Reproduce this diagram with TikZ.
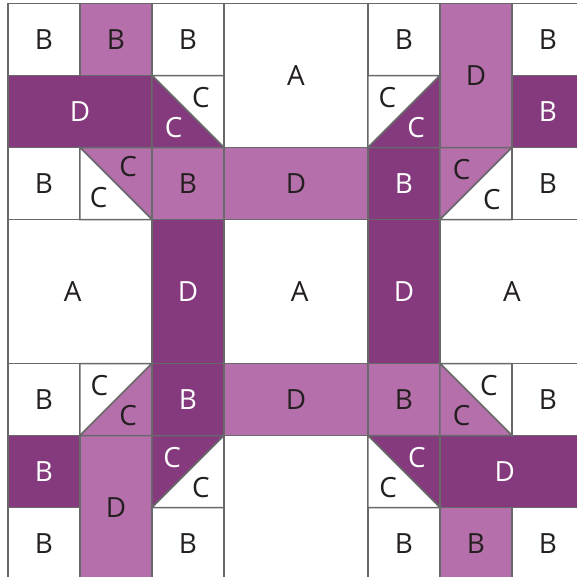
\documentclass[tikz,border=0pt]{standalone}
\usepackage{fontspec}
\setmainfont{Open Sans}
\usepackage{xcolor}
\definecolor{plumdark}{RGB}{133, 58, 126}
\definecolor{plumlight}{RGB}{181, 111, 170}
\definecolor{edgegray}{RGB}{105, 105, 108}
\definecolor{inkblack}{RGB}{35, 31, 32}

\begin{document}
\begin{tikzpicture}[
    x=1cm, y=-1cm,
    patch/.style={draw=edgegray, line width=0.6pt, line join=miter},
    plain/.style={patch, fill=white},
    lite/.style={patch, fill=plumlight},
    deep/.style={patch, fill=plumdark},
    lbl/.style={font=\fontsize{11}{13}\selectfont, text=inkblack, inner sep=0pt},
    lblw/.style={lbl, text=white},
]
\useasboundingbox (-0.111,-0.049) rectangle (7.903,7.965);
\clip (-0.111,-0.049) rectangle (7.903,7.965);

% plain B squares
\foreach \c/\r [count=\i] in {0/0, 2/0, 5/0, 7/0, 0/2, 7/2, 0/5, 7/5, 0/7, 2/7, 5/7, 7/7} {
    \draw[plain] (\c,\r) rectangle ++(1,1);
    \node[lbl] (bw\i) at (\c+0.5,\r+0.5) {B};
}

% coloured B squares
\draw[lite] (1,0) rectangle (2,1);
\draw[lite] (2,2) rectangle (3,3);
\draw[lite] (5,5) rectangle (6,6);
\draw[lite] (6,7) rectangle (7,8);
\draw[deep] (7,1) rectangle (8,2);
\draw[deep] (5,2) rectangle (6,3);
\draw[deep] (2,5) rectangle (3,6);
\draw[deep] (0,6) rectangle (1,7);
\node[lbl]  (bl1) at (1.5,0.5) {B};
\node[lbl]  (bl2) at (2.5,2.5) {B};
\node[lbl]  (bl3) at (5.5,5.5) {B};
\node[lbl]  (bl4) at (6.5,7.5) {B};
\node[lblw] (bd1) at (7.5,1.5) {B};
\node[lblw] (bd2) at (5.5,2.5) {B};
\node[lblw] (bd3) at (2.5,5.5) {B};
\node[lblw] (bd4) at (0.5,6.5) {B};

% A blocks
\draw[plain] (3,0) rectangle (5,2);
\draw[plain] (0,3) rectangle (2,5);
\draw[plain] (3,3) rectangle (5,5);
\draw[plain] (6,3) rectangle (8,5);
\draw[plain] (3,6) rectangle (5,8);
\node[lbl] (a1) at (4,1) {A};
\node[lbl] (a2) at (0.9,4) {A};
\node[lbl] (a3) at (4.05,4) {A};
\node[lbl] (a4) at (7,4) {A};

% D strips
\draw[deep] (0,1) rectangle (2,2);
\draw[lite] (6,0) rectangle (7,2);
\draw[lite] (3,2) rectangle (5,3);
\draw[deep] (2,3) rectangle (3,5);
\draw[deep] (5,3) rectangle (6,5);
\draw[lite] (3,5) rectangle (5,6);
\draw[lite] (1,6) rectangle (2,8);
\draw[deep] (6,6) rectangle (8,7);
\node[lblw] (d1) at (1,1.5) {D};
\node[lbl]  (d2) at (6.5,1) {D};
\node[lbl]  (d3) at (4,2.5) {D};
\node[lblw] (d4) at (2.5,4) {D};
\node[lblw] (d5) at (5.5,4) {D};
\node[lbl]  (d6) at (4,5.5) {D};
\node[lbl]  (d7) at (1.5,7) {D};
\node[lblw] (d8) at (6.9,6.5) {D};

% C half-square triangles
\draw[plain] (2,1) -- (3,1) -- (3,2) -- cycle;
\draw[deep]  (2,1) -- (2,2) -- (3,2) -- cycle;
\node[lbl]  (c1) at (2.68,1.3) {C};
\node[lblw] (c2) at (2.3,1.72) {C};

\draw[plain] (5,1) -- (6,1) -- (5,2) -- cycle;
\draw[deep]  (6,1) -- (6,2) -- (5,2) -- cycle;
\node[lbl]  (c3) at (5.27,1.3) {C};
\node[lblw] (c4) at (5.67,1.72) {C};

\draw[lite]  (1,2) -- (2,2) -- (2,3) -- cycle;
\draw[plain] (1,2) -- (1,3) -- (2,3) -- cycle;
\node[lbl] (c5) at (1.67,2.26) {C};
\node[lbl] (c6) at (1.26,2.69) {C};

\draw[lite]  (6,2) -- (7,2) -- (6,3) -- cycle;
\draw[plain] (7,2) -- (7,3) -- (6,3) -- cycle;
\node[lbl] (c7) at (6.3,2.3) {C};
\node[lbl] (c8) at (6.72,2.72) {C};

\draw[plain] (1,5) -- (2,5) -- (1,6) -- cycle;
\draw[lite]  (2,5) -- (2,6) -- (1,6) -- cycle;
\node[lbl] (c9)  at (1.27,5.3) {C};
\node[lbl] (c10) at (1.67,5.72) {C};

\draw[plain] (6,5) -- (7,5) -- (7,6) -- cycle;
\draw[lite]  (6,5) -- (6,6) -- (7,6) -- cycle;
\node[lbl] (c11) at (6.68,5.3) {C};
\node[lbl] (c12) at (6.3,5.72) {C};

\draw[deep]  (2,6) -- (3,6) -- (2,7) -- cycle;
\draw[plain] (3,6) -- (3,7) -- (2,7) -- cycle;
\node[lblw] (c13) at (2.28,6.3) {C};
\node[lbl]  (c14) at (2.68,6.72) {C};

\draw[deep]  (5,6) -- (6,6) -- (6,7) -- cycle;
\draw[plain] (5,6) -- (5,7) -- (6,7) -- cycle;
\node[lblw] (c15) at (5.68,6.3) {C};
\node[lbl]  (c16) at (5.28,6.72) {C};

\end{tikzpicture}
\end{document}
